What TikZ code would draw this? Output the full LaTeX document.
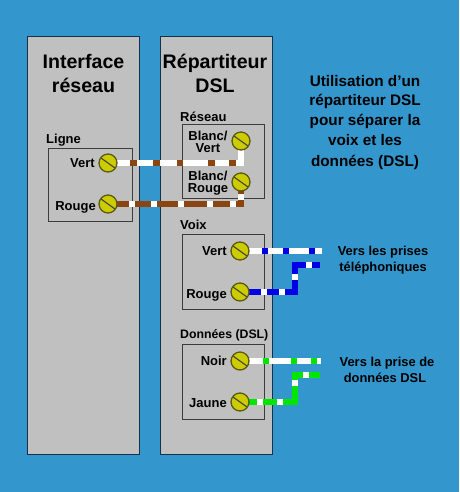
\documentclass[tikz,border=0pt]{standalone}
\usepackage{fontspec}
\setmainfont{Liberation Sans}
\usetikzlibrary{calc}
\pgfdeclarelayer{base}
\pgfdeclarelayer{wires}
\pgfsetlayers{base,wires,main}
\definecolor{bgblue}{HTML}{3396CC}
\definecolor{panelgrey}{HTML}{C0C0C0}
\definecolor{edgedark}{HTML}{14304A}
\definecolor{boxedge}{HTML}{3C3C3C}
\definecolor{screwyellow}{HTML}{CCCC00}
\definecolor{screwedge}{HTML}{5A5A14}
\definecolor{wbrown}{HTML}{8B4513}
\definecolor{wblue}{HTML}{0000E6}
\definecolor{wgreen}{HTML}{00E600}
\tikzset{
  x=1pt,y=-1pt,
  panel/.style={draw=edgedark,line width=1.2pt,fill=panelgrey,minimum width=111.5pt,minimum height=418pt,inner sep=0,anchor=north west},
  termbox/.style={draw=boxedge,line width=1.3pt,minimum width=82pt,minimum height=74pt,inner sep=0,anchor=north west},
  title/.style={font=\bfseries\fontsize{19.6}{23}\selectfont,align=center,inner sep=0,anchor=mid,yshift=-4.5pt},
  note/.style={font=\bfseries\fontsize{15.3}{20}\selectfont,align=center,inner sep=0,anchor=mid,text=black,yshift=-3.5pt},
  side/.style={font=\bfseries\fontsize{12.9}{16}\selectfont,align=center,inner sep=0,anchor=mid,yshift=-2.5pt},
  lab/.style={font=\bfseries\fontsize{13}{15}\selectfont,inner sep=0,yshift=-3pt},
  labr/.style={lab,anchor=mid east},
  labl/.style={lab,anchor=mid west},
  labc/.style={lab,anchor=mid,align=center},
  screw/.style={circle,draw=screwedge,line width=1.3pt,fill=screwyellow,minimum size=18pt,inner sep=0,
    path picture={
      \draw[black!75,line width=1.1pt] ($(path picture bounding box.center)+(-7,-5)$) -- ($(path picture bounding box.center)+(7,5)$);
    }},
  wire/.style={line width=5.5pt,line join=miter},
}
\begin{document}
\begin{tikzpicture}
\useasboundingbox (0,0) rectangle (459,492);
\begin{pgfonlayer}{base}
\fill[bgblue] (0,0) rectangle (459,492);
\node[panel] (pl) at (27,36) {};
\node[panel] (pr) at (160,36) {};
\node[termbox,minimum height=73pt,minimum width=84pt] (bl) at (48,148) {};
\node[termbox] (br) at (182,124) {};
\node[termbox,minimum height=75pt] (bv) at (182,234) {};
\node[termbox,minimum height=75pt] (bd) at (182,344) {};
\end{pgfonlayer}

\node[title] (t1) at (83.5,61) {Interface};
\node[title] (t2) at (83.5,85) {réseau};
\node[title] (t3) at (215,61) {Répartiteur};
\node[title] (t4) at (215,85) {DSL};

\node[note] (n1) at (365,80) {Utilisation d’un};
\node[note] (n2) at (365,99) {répartiteur DSL};
\node[note] (n3) at (365,119) {pour séparer la};
\node[note] (n4) at (365,139) {voix et les};
\node[note] (n5) at (365,160) {données (DSL)};

\node[side] (s1) at (383,250) {Vers les prises};
\node[side] (s2) at (383,266) {téléphoniques};
\node[side] (s3) at (387,361) {Vers la prise de};
\node[side] (s4) at (385,377) {données DSL};

\node[labl] (l0) at (46,138) {Ligne};
\node[labr] (l1) at (95,162) {Vert};
\node[labr] (l2) at (96,205) {Rouge};
\node[labl] (l3) at (180,116) {Réseau};
\node[labc] (l4) at (208,135) {Blanc/};
\node[labc] (l5) at (208,147) {Vert};
\node[labc] (l6) at (208,175) {Blanc/};
\node[labc] (l7) at (208,187) {Rouge};
\node[labl] (l8) at (180,224) {Voix};
\node[labr] (l9) at (227,250) {Vert};
\node[labr] (l10) at (227,293) {Rouge};
\node[labl,font=\bfseries\fontsize{12.3}{15}\selectfont] (l11) at (180,333) {Données (DSL)};
\node[labr] (l12) at (227,360) {Noir};
\node[labr] (l13) at (227,402) {Jaune};

\node[screw] (a1) at (108,163) {};
\node[screw] (a2) at (108,204) {};
\node[screw] (b1) at (241,141) {};
\node[screw] (b2) at (241,182) {};
\node[screw] (c1) at (240,251) {};
\node[screw] (c2) at (240,292) {};
\node[screw] (d1) at (240,361) {};
\node[screw] (d2) at (240,402) {};

\coordinate (e1) at (322,251);
\coordinate (e2) at (320,265);
\coordinate (k2) at (295,292);
\coordinate (k3) at (295,265);
\coordinate (e3) at (321,361);
\coordinate (e4) at (320,375);
\coordinate (k4) at (295,402);
\coordinate (k5) at (295,375);

\begin{pgfonlayer}{wires}
\draw[wire,white] (a1.center) -| (b1.center);
\draw[wire,wbrown,dash pattern=on 0pt off 22pt on 7pt off 16pt on 7pt off 17pt on 6pt off 25pt on 7pt off 14pt on 7pt off 100pt]
  (a1.center) -| (b1.center);
\draw[wire,wbrown] (a2.center) -| (b2.center);
\draw[wire,white,dash pattern=on 0pt off 21pt on 6pt off 16pt on 6pt off 21pt on 6pt off 23pt on 6pt off 17pt on 6pt off 9pt on 6pt off 100pt]
  (a2.center) -| (b2.center);
\draw[wire,white] (c1.center) -- (e1);
\draw[wire,wblue,dash pattern=on 0pt off 22pt on 6pt off 15pt on 6pt off 20pt on 6pt off 100pt] (c1.center) -- (e1);
\draw[wire,wblue] (c2.center) -- (k2) -- (k3) -- (e2);
\draw[wire,white,dash pattern=on 0pt off 21pt on 6pt off 12pt on 6pt off 22pt on 6pt off 20pt on 6pt off 100pt]
  (c2.center) -- (k2) -- (k3) -- (e2);
\draw[wire,white] (d1.center) -- (e3);
\draw[wire,wgreen,dash pattern=on 0pt off 23pt on 6pt off 22pt on 6pt off 14pt on 6pt off 100pt] (d1.center) -- (e3);
\draw[wire,wgreen] (d2.center) -- (k4) -- (k5) -- (e4);
\draw[wire,white,dash pattern=on 0pt off 17pt on 6pt off 14pt on 6pt off 28pt on 6pt off 13pt on 6pt off 100pt]
  (d2.center) -- (k4) -- (k5) -- (e4);
\end{pgfonlayer}
\end{tikzpicture}
\end{document}
